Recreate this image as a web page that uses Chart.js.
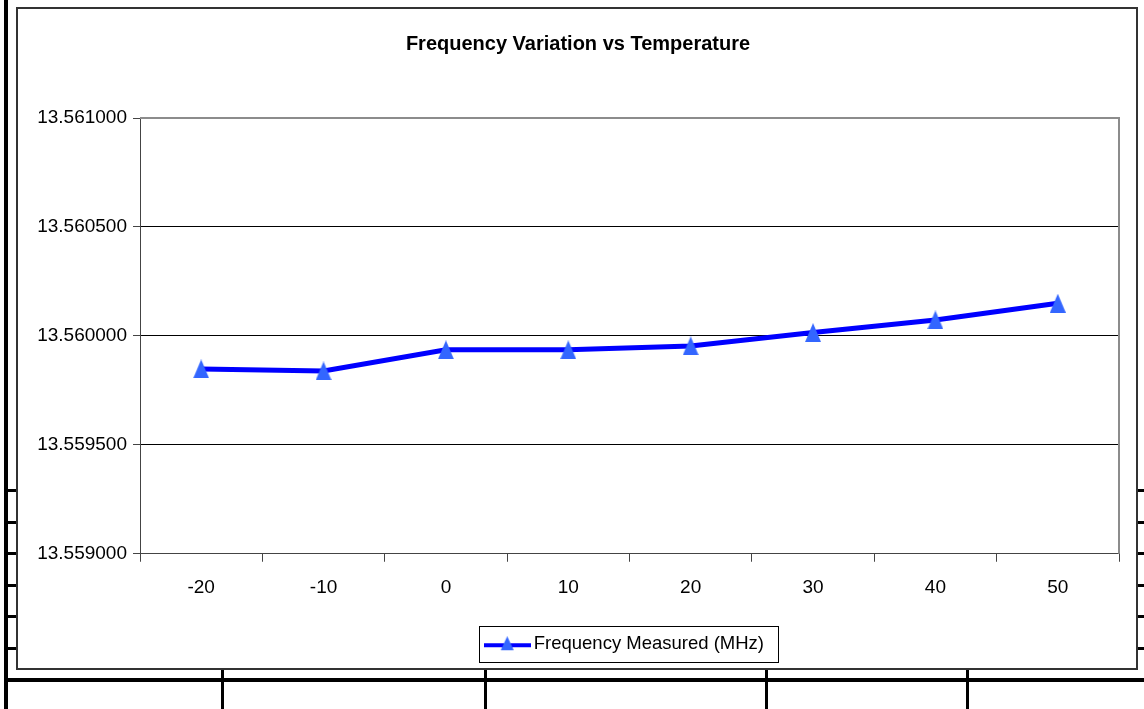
<!DOCTYPE html>
<html>
<head>
<meta charset="utf-8">
<script src="https://cdn.jsdelivr.net/npm/chart.js@4.4.0/dist/chart.umd.min.js"></script>
<style>
  html, body { margin: 0; padding: 0; background: #fff; overflow: hidden; }
  #page { position: relative; width: 1144px; height: 709px; }
  .ln { position: absolute; background: #000; }
  #frame { position: absolute; left: 16px; top: 7px; width: 1118px; height: 659px;
           border: 2px solid #333; background: #fff; }
  #chart { position: absolute; left: 0; top: 0; }
</style>
</head>
<body>
<div id="page">
  <!-- table lines behind the chart -->
  <div class="ln" style="left:4px;top:0;width:4px;height:709px"></div>
  <div class="ln" style="left:5px;top:678px;width:1139px;height:4px"></div>
  <div class="ln" style="left:221px;top:668px;width:3px;height:41px"></div>
  <div class="ln" style="left:484px;top:668px;width:3px;height:41px"></div>
  <div class="ln" style="left:765px;top:668px;width:3px;height:41px"></div>
  <div class="ln" style="left:966px;top:668px;width:3px;height:41px"></div>
  <div id="ticksL"></div>
  <div id="frame"></div>
  <canvas id="chart" width="1144" height="709"></canvas>
</div>
<script>
const temps = ['-20', '-10', '0', '10', '20', '30', '40', '50'];
const freqMHz = [13.559848, 13.559839, 13.559936, 13.559936, 13.559954, 13.560015, 13.560073, 13.560150];
const yTicks = [13.559000, 13.559500, 13.560000, 13.560500, 13.561000];

// little table ticks on both sides of the chart
const rowYs = [489, 521, 552, 584, 615, 647];
let tl = document.getElementById('ticksL');
rowYs.forEach(y => {
    tl.insertAdjacentHTML('beforeend', '<div class="ln" style="left:6px;top:' + y + 'px;width:11px;height:3px"></div>');
    tl.insertAdjacentHTML('beforeend', '<div class="ln" style="left:1136px;top:' + y + 'px;width:8px;height:3px"></div>');
});

// triangle marker (Excel style, taller than equilateral)
function makeTriangle(w, h) {
    const c = document.createElement('canvas');
    c.width = w; c.height = h;
    const g = c.getContext('2d');
    g.fillStyle = '#3366ff';
    g.beginPath();
    g.moveTo(0, h); g.lineTo(w / 2, 0); g.lineTo(w, h);
    g.closePath(); g.fill();
    return c;
}
const marker = makeTriangle(16, 19);

// legend symbol: line with small triangle
const legendSym = document.createElement('canvas');
legendSym.width = 47; legendSym.height = 15;
(function () {
    const g = legendSym.getContext('2d');
    g.fillStyle = '#0000ff';
    g.fillRect(0, 7, 47, 4);
    g.drawImage(makeTriangle(13, 14), 17, 0);
})();

Chart.defaults.font.family = '"Liberation Sans", Arial, sans-serif';
Chart.defaults.color = '#000';

const shiftBoxes = {
    id: 'shiftBoxes',
    afterLayout(chart) {
        const t = chart.titleBlock;
        if (t) { t.left += 10; t.right += 10; }
        const l = chart.legend;
        if (l) { l.left += 59; l.right += 59; }
    }
};

const plotFrame = {
    id: 'plotFrame',
    afterDraw(chart) {
        const a = chart.chartArea, c = chart.ctx;
        c.save();
        c.strokeStyle = '#8c8c8c';
        c.lineWidth = 2;
        c.beginPath();
        c.moveTo(a.left, a.top);
        c.lineTo(a.right, a.top);
        c.lineTo(a.right, a.bottom);
        c.stroke();
        // legend box
        const hb = chart.legend.legendHitBoxes[0];
        if (hb) {
            const cy = hb.top + hb.height / 2;
            c.strokeStyle = '#000';
            c.lineWidth = 1;
            c.strokeRect(Math.round(hb.left - 11) + 0.5, Math.round(cy - 18) + 0.5,
                Math.round(hb.width + 25), 36);
        }
        c.restore();
    }
};

const ctx = document.getElementById('chart').getContext('2d');
const freqChart = new Chart(ctx, {
    type: 'line',
    data: {
        labels: temps,
        datasets: [{
            label: 'Frequency Measured (MHz)',
            data: freqMHz,
            borderColor: '#0000ff',
            borderWidth: 5,
            tension: 0,
            pointStyle: marker,
            pointRadius: 9,
            pointHoverRadius: 9
        }]
    },
    options: {
        responsive: false,
        animation: false,
        events: [],
        layout: { padding: { left: 17, right: 25, top: 8, bottom: 46 } },
        scales: {
            x: {
                offset: true,
                grid: { offset: true, drawOnChartArea: false, drawTicks: true, tickLength: 8, color: '#444' },
                border: { display: true, color: '#444', width: 1 },
                ticks: { font: { size: 19 }, padding: 15, maxRotation: 0 },
                afterFit: s => { s.height = 70.75; }
            },
            y: {
                min: 13.559,
                max: 13.561,
                afterBuildTicks: s => { s.ticks = yTicks.map(v => ({ value: v })); },
                afterFit: s => { s.width = 123; },
                grid: {
                    color: c => (c.tick && c.tick.value === 13.561) ? '#8c8c8c' : '#000',
                    tickColor: '#444',
                    tickLength: 7
                },
                border: { display: true, color: '#444', width: 1 },
                ticks: {
                    font: { size: 19 },
                    padding: 6,
                    callback: v => Number(v).toFixed(6)
                }
            }
        },
        plugins: {
            title: {
                display: true,
                text: 'Frequency Variation vs Temperature',
                font: { size: 20, weight: 'bold' },
                color: '#000',
                padding: { top: 24, bottom: 62 }
            },
            legend: {
                display: true,
                position: 'bottom',
                labels: {
                    usePointStyle: true,
                    pointStyle: legendSym,
                    pointStyleWidth: 34.5,
                    font: { size: 18.5 },
                    color: '#000',
                    padding: 10
                }
            },
            tooltip: { enabled: false }
        }
    },
    plugins: [shiftBoxes, plotFrame]
});
</script>
</body>
</html>
